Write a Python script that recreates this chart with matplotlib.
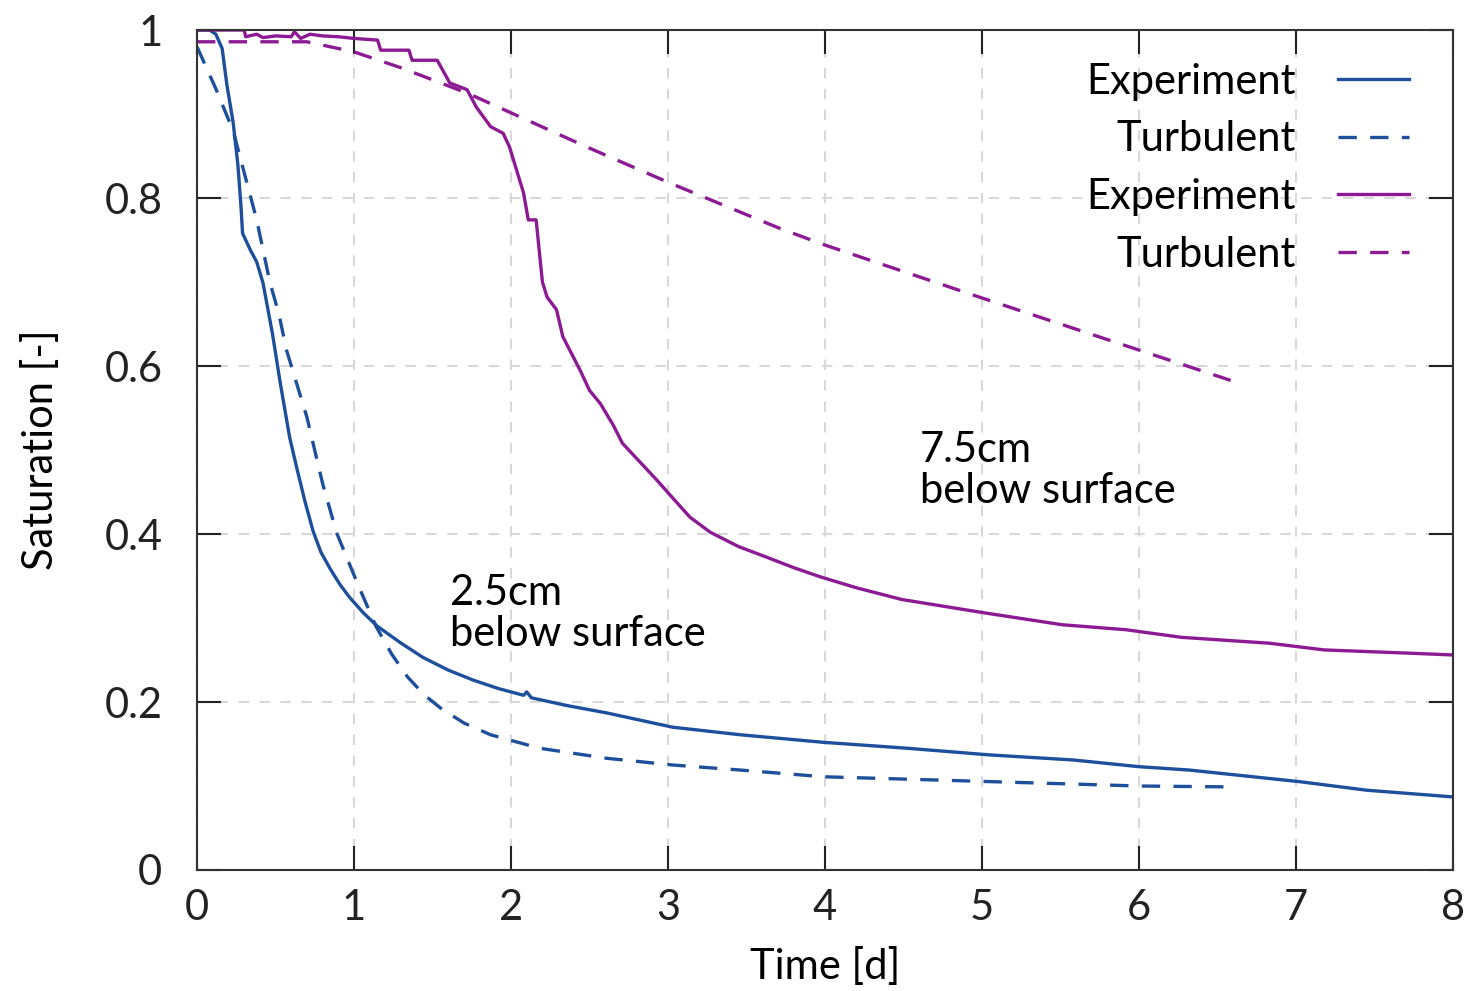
import numpy as np
import matplotlib
matplotlib.use("Agg")
import matplotlib.pyplot as plt

plt.rcParams['font.family'] = ['Lato', 'DejaVu Sans']

# 2.5 cm below surface
t_exp25 = [0, 0.08, 0.12, 0.16, 0.19, 0.23, 0.26, 0.28, 0.29, 0.34, 0.38, 0.42, 0.48,
           0.53, 0.59, 0.64, 0.69, 0.74, 0.79, 0.85, 0.91, 0.97, 1.06, 1.15, 1.3, 1.44,
           1.6, 1.76, 1.92, 2.08, 2.1, 2.13, 2.35, 2.61,
           3.03, 3.46, 3.99, 4.52, 5.05, 5.58, 6.0, 6.32, 7.03, 7.45, 8.0]
s_exp25 = [1.0, 1.0, 0.995, 0.978, 0.935, 0.89, 0.84, 0.79, 0.758, 0.738, 0.724, 0.699, 0.639,
           0.58, 0.515, 0.475, 0.437, 0.403, 0.378, 0.358, 0.34, 0.325, 0.306, 0.29, 0.27, 0.253,
           0.238, 0.226, 0.216, 0.208, 0.212, 0.205, 0.196, 0.187,
           0.17, 0.161, 0.152, 0.145, 0.137, 0.131, 0.123, 0.119, 0.105, 0.095, 0.087]

t_turb25 = [0, 0.12, 0.23, 0.38, 0.465, 0.52, 0.57, 0.7, 0.8, 0.89, 1.02, 1.14, 1.24, 1.34, 1.45,
            1.55, 1.7, 1.87, 2.18, 2.61, 3.03, 3.46, 3.99, 4.73, 6.0, 6.54]
s_turb25 = [0.98, 0.93, 0.88, 0.774, 0.699, 0.663, 0.619, 0.539, 0.46, 0.401, 0.342, 0.29, 0.257, 0.23, 0.208,
            0.193, 0.175, 0.161, 0.145, 0.133, 0.125, 0.119, 0.111, 0.107, 0.1, 0.099]

# 7.5 cm below surface
t_exp75 = [0, 0.3, 0.31, 0.38, 0.42, 0.5, 0.6, 0.62, 0.66, 0.72, 0.8, 0.9, 1.0, 1.15, 1.17,
           1.35, 1.37, 1.53, 1.61, 1.72, 1.78, 1.87, 1.95, 1.99, 2.08, 2.11, 2.16, 2.2, 2.23,
           2.29, 2.33, 2.44, 2.5, 2.57, 2.65, 2.71, 2.93, 3.02, 3.14, 3.27, 3.45, 3.62, 3.8, 3.97,
           4.2, 4.49, 5.02, 5.51, 5.92, 6.27, 6.83, 7.18, 7.74, 8.0]
s_exp75 = [1.0, 1.0, 0.992, 0.995, 0.991, 0.993, 0.992, 0.998, 0.99, 0.995, 0.993, 0.992, 0.99, 0.988, 0.976,
           0.976, 0.964, 0.964, 0.937, 0.929, 0.908, 0.885, 0.877, 0.861, 0.806, 0.774, 0.774, 0.70, 0.682,
           0.667, 0.635, 0.595, 0.571, 0.555, 0.53, 0.508, 0.464, 0.445, 0.42, 0.402, 0.385, 0.373, 0.36, 0.349,
           0.336, 0.322, 0.306, 0.292, 0.286, 0.277, 0.27, 0.262, 0.258, 0.256]

t_turb75 = [0, 0.7, 1.0, 1.3, 1.72, 2.48, 3.01, 3.71, 4.0, 5.0, 6.0, 6.63]
s_turb75 = [0.986, 0.986, 0.974, 0.955, 0.925, 0.861, 0.818, 0.764, 0.744, 0.681, 0.619, 0.58]

blue = '#1d4f9c'
purple = '#8c1a93'
dash = (0, (5.5, 4))

fig = plt.figure(figsize=(14.66, 9.91), dpi=100)
ax = fig.add_axes([0.1344, 0.1221, 0.8567, 0.8476])

ax.plot(t_exp25, s_exp25, color=blue, lw=2.4, label='Experiment')
ax.plot(t_turb25, s_turb25, color=blue, lw=2.4, ls=dash, label='Turbulent')
ax.plot(t_exp75, s_exp75, color=purple, lw=2.4, label='Experiment')
ax.plot(t_turb75, s_turb75, color=purple, lw=2.4, ls=dash, label='Turbulent')

ax.set_xlim(0, 8)
ax.set_ylim(0, 1)
ax.set_xticks(range(0, 9))
ax.set_yticks([0, 0.2, 0.4, 0.6, 0.8, 1.0])
ax.set_yticklabels(['0', '0.2', '0.4', '0.6', '0.8', '1'])
ax.grid(True, color='#d8d8d8', lw=1.5, ls=(0, (5, 5)))
ax.tick_params(direction='in', length=17, width=1.5, top=True, right=True,
               labelsize=30, colors='#222222')
ax.tick_params(axis='y', pad=25)
ax.tick_params(axis='x', pad=14)
for sp in ax.spines.values():
    sp.set_linewidth(1.5)
    sp.set_color('#333333')

ax.set_xlabel('Time [d]', fontsize=30, labelpad=14)
ax.set_ylabel('Saturation [-]', fontsize=30, labelpad=32)

ax.text(1.61, 0.305, '2.5cm\nbelow surface', fontsize=30, va='center', ha='left',
        linespacing=1.1)
ax.text(4.605, 0.476, '7.5cm\nbelow surface', fontsize=30, va='center', ha='left',
        linespacing=1.1)

ax.legend(loc='upper right', frameon=False, fontsize=30, markerfirst=False,
          handlelength=1.7, handletextpad=1.0, labelspacing=0.47,
          bbox_to_anchor=(0.9945, 1.0056))

fig.savefig('out.png', dpi=100)
